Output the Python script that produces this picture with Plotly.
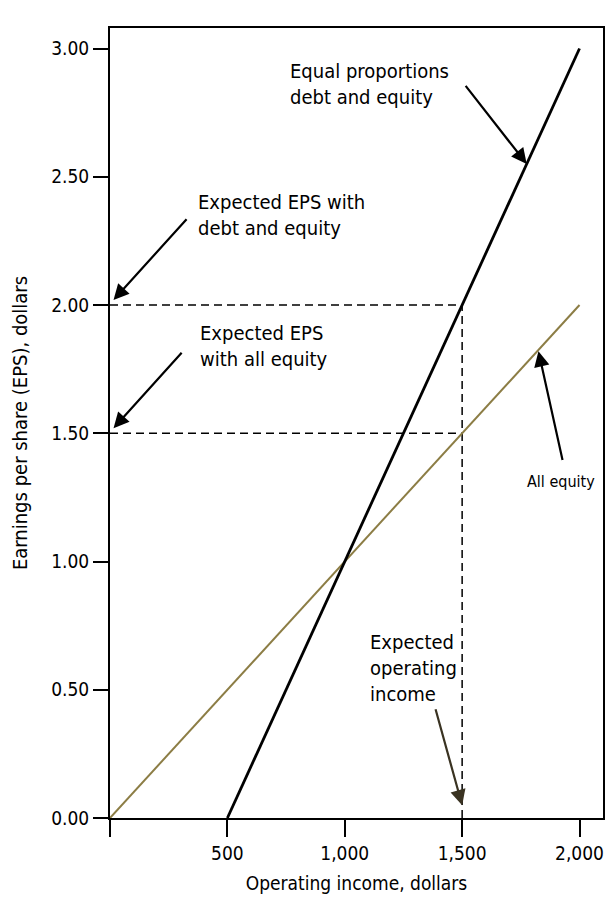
import plotly.graph_objects as go

# Data
operating_income = [0, 500, 1000, 1500, 2000]
eps_all_equity = [0.0, 0.5, 1.0, 1.5, 2.0]
debt_income = [500, 1000, 1500, 2000]
eps_debt_equity = [0.0, 1.0, 2.0, 3.0]
expected_income = 1500
expected_eps_debt = 2.0
expected_eps_equity = 1.5

x_tickvals = [0, 500, 1000, 1500, 2000]
x_ticktext = ["", "500", "1,000", "1,500", "2,000"]
y_tickvals = [0, 0.5, 1.0, 1.5, 2.0, 2.5, 3.0]
y_ticktext = ["0.00", "0.50", "1.00", "1.50", "2.00", "2.50", "3.00"]

FONT = "DejaVu Sans Condensed, sans-serif"
dash = "8px,5px"

fig = go.Figure()

# dashed guide lines
for xs, ys in (([0, expected_income], [expected_eps_debt, expected_eps_debt]),
               ([0, expected_income], [expected_eps_equity, expected_eps_equity]),
               ([expected_income, expected_income], [0, expected_eps_debt])):
    fig.add_trace(go.Scatter(x=xs, y=ys, mode="lines",
                             line=dict(color="black", width=1.5, dash=dash),
                             showlegend=False, hoverinfo="skip"))

# main lines
fig.add_trace(go.Scatter(x=operating_income, y=eps_all_equity, mode="lines",
                         line=dict(color="#8c7d45", width=2), name="All equity",
                         showlegend=False))
fig.add_trace(go.Scatter(x=debt_income, y=eps_debt_equity, mode="lines",
                         line=dict(color="black", width=2.8),
                         name="Equal proportions debt and equity", showlegend=False))

tf = dict(family=FONT, size=20, color="black")

def arrow(x, y, ax, ay, color="black"):
    fig.add_annotation(x=x, y=y, ax=ax, ay=ay, xref="x", yref="y", axref="x", ayref="y",
                       showarrow=True, arrowhead=2, arrowsize=1.4, arrowwidth=2.2,
                       arrowcolor=color, text="")

# arrows
arrow(1775, 2.55, 1510, 2.86)
arrow(15, 2.02, 332, 2.34)
arrow(15, 1.52, 311, 1.82)
arrow(1825, 1.82, 1929, 1.39)
arrow(1500, 0.05, 1385, 0.43, color="#3a3322")

# texts
fig.add_annotation(x=758, y=2.86, xref="x", yref="y", text="Equal proportions<br>debt and equity",
                   showarrow=False, xanchor="left", yanchor="middle", align="left", font=tf)
fig.add_annotation(x=366, y=2.35, xref="x", yref="y", text="Expected EPS with<br>debt and equity",
                   showarrow=False, xanchor="left", yanchor="middle", align="left", font=tf)
fig.add_annotation(x=375, y=1.84, xref="x", yref="y", text="Expected EPS<br>with all equity",
                   showarrow=False, xanchor="left", yanchor="middle", align="left", font=tf)
fig.add_annotation(x=1767, y=1.31, xref="x", yref="y", text="All equity",
                   showarrow=False, xanchor="left", yanchor="middle", align="left",
                   font=dict(family=FONT, size=16, color="black"))
fig.add_annotation(x=1099, y=0.585, xref="x", yref="y", text="Expected<br>operating<br>income",
                   showarrow=False, xanchor="left", yanchor="middle", align="left", font=tf)

fig.update_layout(
    width=615, height=905,
    margin=dict(l=110, r=10, t=28, b=87),
    plot_bgcolor="white", paper_bgcolor="white",
    font=dict(family=FONT, size=20, color="black"),
    showlegend=False,
)
fig.update_xaxes(range=[0, 2100], tickvals=x_tickvals, ticktext=x_ticktext,
                 showgrid=False, zeroline=False, showline=True, linecolor="black", linewidth=2,
                 mirror=True, ticks="outside", ticklen=17, tickwidth=2, tickcolor="black",
                 tickfont=dict(family=FONT, size=19),
                 title=dict(text="Operating income, dollars", font=dict(family=FONT, size=19), standoff=14))
fig.update_yaxes(range=[0, 3.08], tickvals=y_tickvals, ticktext=y_ticktext,
                 showgrid=False, zeroline=False, showline=True, linecolor="black", linewidth=2,
                 mirror=True, ticks="outside", ticklen=15, tickwidth=2, tickcolor="black",
                 tickfont=dict(family=FONT, size=19),
                 title=dict(text="Earnings per share (EPS), dollars", font=dict(family=FONT, size=20), standoff=18))

fig.write_html("out.html", config={"displayModeBar": False},
               post_script="document.body.style.margin='0';document.body.style.overflow='hidden';")
